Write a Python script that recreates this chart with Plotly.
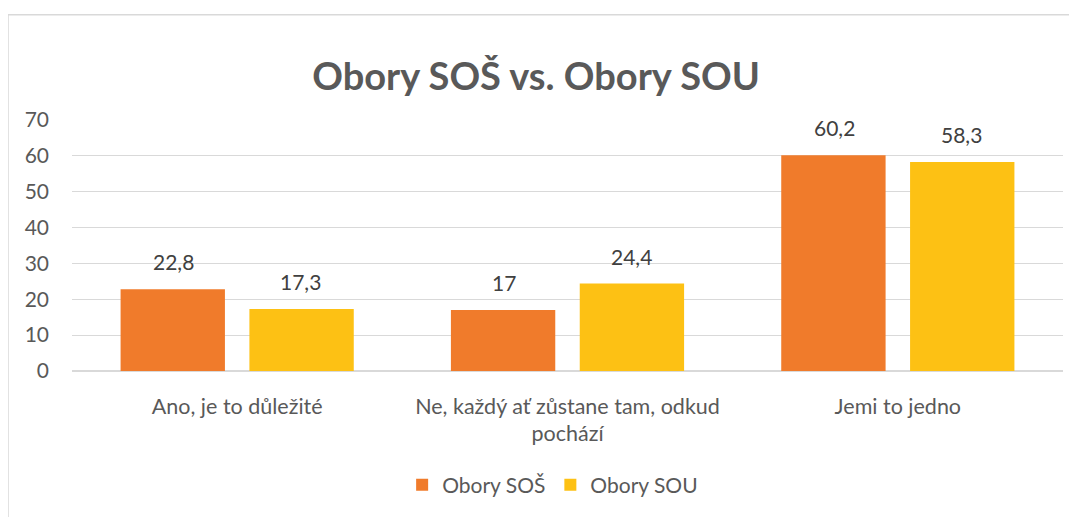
import plotly.graph_objects as go

categories = [
    "Ano, je to důležité",
    "Ne, každý ať zůstane tam, odkud<br>pochází",
    "Jemi to jedno",
]
sos_values = [22.8, 17, 60.2]
sou_values = [17.3, 24.4, 58.3]
y_ticks = [0, 10, 20, 30, 40, 50, 60, 70]

FONT = "Lato, Calibri, sans-serif"
GREY = "#595959"


def fmt(v):
    return f"{v:g}".replace(".", ",")


fig = go.Figure()

fig.add_trace(go.Bar(
    x=categories,
    y=sos_values,
    name="Obory SOŠ",
    marker=dict(color="#F07B2B", line=dict(width=0)),
))

fig.add_trace(go.Bar(
    x=categories,
    y=sou_values,
    name="Obory SOU",
    marker=dict(color="#FDC114", line=dict(width=0)),
))

# data labels, a little above each bar (bar slot = 127 px, bars sit at +-63.5 px)
for values, shift in [(sos_values, -63.5), (sou_values, 63.5)]:
    for cat, v in zip(categories, values):
        fig.add_annotation(
            x=cat, y=v, xref="x", yref="y",
            text=fmt(v), showarrow=False,
            xshift=shift, yshift=13, yanchor="bottom",
            font=dict(size=21, color="#404040", family=FONT),
        )

fig.update_layout(
    width=1069,
    height=509,
    margin=dict(l=64, r=14, t=112, b=144),
    paper_bgcolor="white",
    plot_bgcolor="white",
    separators=", ",
    font=dict(family=FONT, color=GREY, size=21),
    title=dict(
        text="<b>Obory SOŠ vs. Obory SOU</b>",
        x=0.494, xanchor="center",
        y=1 - 69 / 509, yanchor="middle", yref="container",
        font=dict(size=38, color=GREY, family=FONT),
    ),
    barmode="group",
    bargap=0.22,
    bargroupgap=0.19,
    showlegend=True,
    legend=dict(
        orientation="h",
        x=0.485, xanchor="center",
        y=-0.455, yanchor="middle",
        font=dict(size=21, color=GREY),
        itemwidth=30,
    ),
    xaxis=dict(
        showgrid=False,
        showline=False,
        ticks="",
        ticklabelstandoff=20,
        tickfont=dict(size=21.5, color=GREY),
    ),
    yaxis=dict(
        range=[0, 70],
        tickvals=y_ticks,
        showgrid=True,
        gridcolor="#D9D9D9",
        gridwidth=1,
        zeroline=True,
        zerolinecolor="#D9D9D9",
        showline=False,
        ticks="",
        ticklabelstandoff=22,
        tickfont=dict(size=21, color=GREY),
    ),
)

# chart frame like the spreadsheet chart area border
fig.add_shape(
    type="rect", xref="paper", yref="paper",
    x0=(8 - 72) / 991, x1=1.05,
    y0=-0.7, y1=1 + (120 - 14) / 253,
    line=dict(color="#D9D9D9", width=1.5),
    fillcolor="rgba(0,0,0,0)",
    layer="below",
)

fig.write_html("out.html")
